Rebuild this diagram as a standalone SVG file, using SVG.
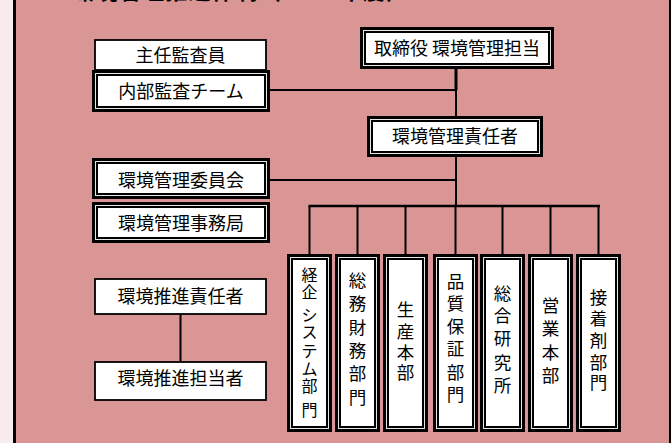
<svg xmlns="http://www.w3.org/2000/svg" width="671" height="443" viewBox="0 0 671 443">
<style>
text{font-family:"Noto Sans CJK JP","Noto Sans CJK SC",sans-serif;fill:#000}
.t{font-size:18px;text-anchor:middle}
.v{font-size:17.5px;text-anchor:middle}
.v1{font-size:16px;text-anchor:middle}
.s{fill:#fff;stroke:#000;stroke-width:1.8}
.o{fill:#e6e6e6;stroke:#000;stroke-width:3}
.i{fill:#fff;stroke:#000;stroke-width:2}
.ln{stroke:#000;stroke-width:2;fill:none}
</style>
<rect x="0" y="0" width="671" height="443" fill="#d99694"/>
<rect x="0" y="0" width="13" height="443" fill="#f9ecec"/>
<rect x="13" y="0" width="3" height="443" fill="#000"/>
<rect x="669" y="0" width="2" height="443" fill="#000"/>
<text x="72" y="-1.5" font-size="22" font-weight="bold" textLength="336" lengthAdjust="spacing">環境管理推進体制（2006年度）</text>

<g id="connectors">
<line class="ln" x1="456" y1="69" x2="456" y2="90" style="stroke-width:3"/>
<line class="ln" x1="456" y1="90" x2="456" y2="116"/>
<line class="ln" x1="270" y1="90" x2="456" y2="90"/>
<line class="ln" x1="456" y1="156" x2="456" y2="207"/>
<line class="ln" x1="270" y1="180" x2="456" y2="180"/>
<line class="ln" x1="308.5" y1="206" x2="600" y2="206" style="stroke-width:2.5"/>
<line class="ln" x1="309.5" y1="206" x2="309.5" y2="254"/>
<line class="ln" x1="357.5" y1="206" x2="357.5" y2="254"/>
<line class="ln" x1="405.5" y1="206" x2="405.5" y2="254"/>
<line class="ln" x1="455.5" y1="206" x2="455.5" y2="254"/>
<line class="ln" x1="502.5" y1="206" x2="502.5" y2="254"/>
<line class="ln" x1="550.5" y1="206" x2="550.5" y2="254"/>
<line class="ln" x1="598.5" y1="206" x2="598.5" y2="254"/>
<line class="ln" x1="180.5" y1="314" x2="180.5" y2="362"/>
</g>

<g id="shunin">
<rect class="s" x="95" y="40" width="171" height="30"/>
<text class="t" x="180.5" y="62">主任監査員</text>
</g>
<g id="naibu">
<rect class="o" x="93.5" y="71.5" width="175" height="39"/>
<rect class="i" x="97" y="75" width="168" height="32"/>
<text class="t" x="181" y="98">内部監査チーム</text>
</g>
<g id="torishimariyaku">
<rect class="o" x="361.5" y="28.5" width="191" height="39"/>
<rect class="i" x="365" y="32" width="184" height="32"/>
<text class="t" x="457" y="55">取締役 環境管理担当</text>
</g>
<g id="sekininsha">
<rect class="o" x="368.5" y="117.5" width="173" height="38"/>
<rect class="i" x="372" y="121" width="166" height="31"/>
<text class="t" x="455" y="143">環境管理責任者</text>
</g>
<g id="iinkai">
<rect class="o" x="93.5" y="159.5" width="175" height="38"/>
<rect class="i" x="97" y="163" width="168" height="31"/>
<text class="t" x="181" y="187">環境管理委員会</text>
</g>
<g id="jimukyoku">
<rect class="o" x="93.5" y="203.5" width="175" height="38"/>
<rect class="i" x="97" y="207" width="168" height="31"/>
<text class="t" x="181" y="230">環境管理事務局</text>
</g>
<g id="suishin-sekinin">
<rect class="s" x="95" y="279" width="171" height="35"/>
<text class="t" x="180.5" y="303">環境推進責任者</text>
</g>
<g id="suishin-tanto">
<rect class="s" x="95" y="362" width="171" height="38"/>
<text class="t" x="180.5" y="385">環境推進担当者</text>
</g>

<g id="dept1">
<rect class="o" x="288.5" y="255.5" width="42" height="175"/>
<rect class="i" x="292" y="259" width="35" height="168"/>
<text class="v1"><tspan x="309.5" y="281">経</tspan><tspan x="309.5" y="298">企</tspan><tspan x="309.5" y="321">シ</tspan><tspan x="309.5" y="338">ス</tspan><tspan x="309.5" y="357">テ</tspan><tspan x="309.5" y="375">ム</tspan><tspan x="309.5" y="392">部</tspan><tspan x="309.5" y="416">門</tspan></text>
</g>
<g id="dept2">
<rect class="o" x="336.5" y="255.5" width="42" height="175"/>
<rect class="i" x="340" y="259" width="35" height="168"/>
<text class="v"><tspan x="357.5" y="286.5">総</tspan><tspan x="357.5" y="309.5">務</tspan><tspan x="357.5" y="333.5">財</tspan><tspan x="357.5" y="356.5">務</tspan><tspan x="357.5" y="379.5">部</tspan><tspan x="357.5" y="403.5">門</tspan></text>
</g>
<g id="dept3">
<rect class="o" x="384.5" y="255.5" width="42" height="175"/>
<rect class="i" x="388" y="259" width="35" height="168"/>
<text class="v"><tspan x="405.5" y="315.5">生</tspan><tspan x="405.5" y="337.5">産</tspan><tspan x="405.5" y="358.5">本</tspan><tspan x="405.5" y="378.5">部</tspan></text>
</g>
<g id="dept4">
<rect class="o" x="434.5" y="255.5" width="42" height="175"/>
<rect class="i" x="438" y="259" width="35" height="168"/>
<text class="v"><tspan x="455.5" y="287.5">品</tspan><tspan x="455.5" y="309.5">質</tspan><tspan x="455.5" y="332.5">保</tspan><tspan x="455.5" y="354.5">証</tspan><tspan x="455.5" y="378.5">部</tspan><tspan x="455.5" y="400.5">門</tspan></text>
</g>
<g id="dept5">
<rect class="o" x="481.5" y="255.5" width="42" height="175"/>
<rect class="i" x="485" y="259" width="35" height="168"/>
<text class="v"><tspan x="502.5" y="299.5">総</tspan><tspan x="502.5" y="321.5">合</tspan><tspan x="502.5" y="344.5">研</tspan><tspan x="502.5" y="368.5">究</tspan><tspan x="502.5" y="391.5">所</tspan></text>
</g>
<g id="dept6">
<rect class="o" x="529.5" y="255.5" width="42" height="175"/>
<rect class="i" x="533" y="259" width="35" height="168"/>
<text class="v"><tspan x="550.5" y="311.5">営</tspan><tspan x="550.5" y="334.5">業</tspan><tspan x="550.5" y="358.5">本</tspan><tspan x="550.5" y="381.5">部</tspan></text>
</g>
<g id="dept7">
<rect class="o" x="577.5" y="255.5" width="42" height="175"/>
<rect class="i" x="581" y="259" width="35" height="168"/>
<text class="v"><tspan x="598.5" y="303.5">接</tspan><tspan x="598.5" y="324.5">着</tspan><tspan x="598.5" y="346.5">剤</tspan><tspan x="598.5" y="368.5">部</tspan><tspan x="598.5" y="388.5">門</tspan></text>
</g>
</svg>
